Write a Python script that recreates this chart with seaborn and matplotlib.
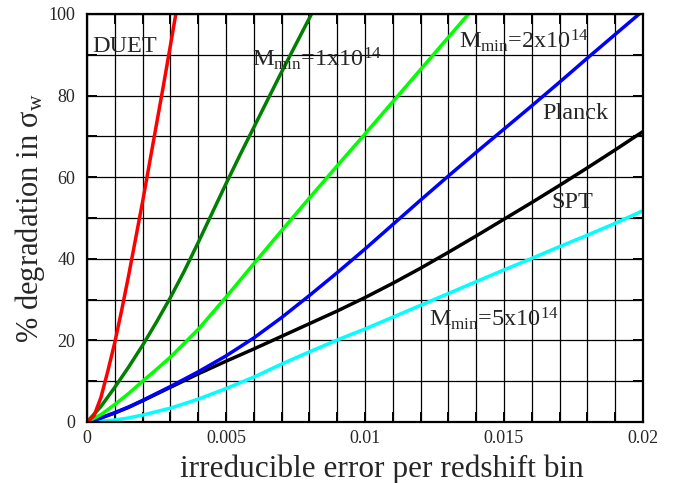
import numpy as np
import pandas as pd
import matplotlib
matplotlib.use("Agg")
import matplotlib.pyplot as plt
import seaborn as sns
from matplotlib.ticker import MultipleLocator, FixedLocator, FixedFormatter

# ---- data ----
duet_x = [0, 0.00025, 0.0005, 0.00075, 0.001, 0.00125, 0.0015, 0.00175, 0.002,
          0.00225, 0.0025, 0.00275, 0.003, 0.0032]
duet_y = [0, 1.5, 6, 12.5, 19.5, 27.5, 36, 45, 54, 63.5, 73, 82.5, 92.3, 100.2]

m1_x = [0, 0.0005, 0.001, 0.0015, 0.002, 0.0025, 0.003, 0.0035, 0.004, 0.0045,
        0.005, 0.0055, 0.006, 0.0065, 0.007, 0.0075, 0.008, 0.0082]
m1_y = [0, 3.8, 8.5, 13.5, 18.8, 24.5, 30.5, 37.0, 44.0, 51.2, 58.4, 65.4, 72.2,
        79.0, 85.8, 92.4, 99.0, 101.6]

m2_x = [0, 0.0005, 0.001, 0.0015, 0.002, 0.0025, 0.003, 0.004, 0.005, 0.006,
        0.007, 0.008, 0.009, 0.01, 0.011, 0.012, 0.013, 0.0138]
m2_y = [0, 1.8, 4.3, 7.0, 10.0, 12.9, 15.9, 22.7, 30.6, 38.8, 46.9, 54.9, 62.8,
        70.6, 78.5, 86.4, 94.3, 100.6]

grid_x = [0, 0.0005, 0.001, 0.0015, 0.002, 0.003, 0.004, 0.005, 0.006, 0.007,
          0.008, 0.009, 0.01, 0.011, 0.012, 0.013, 0.014, 0.015, 0.016, 0.017,
          0.018, 0.019, 0.02]
planck_y = [0, 1.0, 2.3, 3.7, 5.3, 8.7, 12.3, 16.2, 20.6, 25.6, 31.0, 36.6, 42.4,
            48.4, 54.4, 60.3, 66.1, 71.8, 77.5, 83.3, 89.2, 95.0, 100.8]
spt_y = [0, 1.0, 2.2, 3.6, 5.2, 8.5, 11.8, 14.9, 17.9, 21.0, 24.1, 27.2, 30.5,
         34.0, 37.7, 41.6, 45.6, 49.7, 53.8, 58.0, 62.3, 66.7, 71.2]
m5_y = [0, 0.15, 0.5, 1.0, 1.7, 3.4, 5.6, 8.2, 11, 14.2, 17.2, 20.1, 22.8, 25.7,
        28.6, 31.5, 34.4, 37.3, 40.1, 43, 45.8, 48.7, 51.8]

series = ["M5", "SPT", "Planck", "M2", "M1", "DUET"]
colors = {"DUET": "#ff0000", "M1": "#008000", "M2": "#00ff00",
          "Planck": "#0000ff", "SPT": "#000000", "M5": "#00ffff"}

x_ticks = [0, 0.005, 0.01, 0.015, 0.02]
x_tick_labels = ["0", "0.005", "0.01", "0.015", "0.02"]
y_ticks = [0, 20, 40, 60, 80, 100]
y_tick_labels = ["0", "20", "40", "60", "80", "100"]

frames = [
    pd.DataFrame({"x": grid_x, "y": m5_y, "s": "M5"}),
    pd.DataFrame({"x": grid_x, "y": spt_y, "s": "SPT"}),
    pd.DataFrame({"x": grid_x, "y": planck_y, "s": "Planck"}),
    pd.DataFrame({"x": m2_x, "y": m2_y, "s": "M2"}),
    pd.DataFrame({"x": m1_x, "y": m1_y, "s": "M1"}),
    pd.DataFrame({"x": duet_x, "y": duet_y, "s": "DUET"}),
]
df = pd.concat(frames, ignore_index=True)

# ---- style ----
sns.set_style("white")
plt.rcParams["font.family"] = ["Liberation Serif", "DejaVu Serif"]
plt.rcParams["mathtext.fontset"] = "custom"
plt.rcParams["mathtext.rm"] = "Liberation Serif"
plt.rcParams["mathtext.it"] = "Liberation Serif:italic"
plt.rcParams["mathtext.default"] = "rm"

fig = plt.figure(figsize=(6.73, 4.83), dpi=100)
ax = fig.add_axes([87 / 673, 1 - 422 / 483, 556 / 673, 408 / 483])

sns.lineplot(data=df, x="x", y="y", hue="s", hue_order=series, palette=colors,
             estimator=None, linewidth=2.5, legend=False, ax=ax)

ax.set_xlim(0, 0.02)
ax.set_ylim(0, 100)
ax.xaxis.set_major_locator(FixedLocator(x_ticks))
ax.xaxis.set_major_formatter(FixedFormatter(x_tick_labels))
ax.xaxis.set_minor_locator(MultipleLocator(0.001))
ax.yaxis.set_major_locator(FixedLocator(y_ticks))
ax.yaxis.set_major_formatter(FixedFormatter(y_tick_labels))
ax.yaxis.set_minor_locator(MultipleLocator(10))

ax.grid(which="both", color="black", linewidth=0.9)
ax.set_axisbelow(True)
for sp in ax.spines.values():
    sp.set_color("black")
    sp.set_linewidth(1.6)

ax.tick_params(which="both", direction="in", top=True, right=True, bottom=True,
               left=True, length=7, width=1.4, color="black")
ax.tick_params(axis="y", which="major", labelsize=13, pad=8.5)
ax.tick_params(axis="x", which="major", labelsize=13, pad=6)

ax.set_xlabel("irreducible error per redshift bin", fontsize=22.5)
ax.xaxis.label.set_va("baseline")
ax.xaxis.set_label_coords(0.53, (422 - 476.7) / 408)
ax.set_ylabel("% degradation in σ$_{\\rm w}$", fontsize=22)
ax.yaxis.set_label_coords((47 - 87) / 556, 0.5)

fs = 17.5
ax.text(0.000205, 90.8, "DUET", fontsize=fs, ha="left", va="baseline")
ax.text(0.00592, 87.3, r"M$_{\rm min}$=1x10$^{14}$", fontsize=fs, ha="left", va="baseline")
ax.text(0.01338, 91.6, r"M$_{\rm min}$=2x10$^{14}$", fontsize=fs, ha="left", va="baseline")
ax.text(0.01636, 74.2, "Planck", fontsize=fs, ha="left", va="baseline")
ax.text(0.01669, 52.4, "SPT", fontsize=fs, ha="left", va="baseline")
ax.text(0.01231, 23.4, r"M$_{\rm min}$=5x10$^{14}$", fontsize=fs, ha="left", va="baseline")

fig.savefig("out.png", dpi=100)
